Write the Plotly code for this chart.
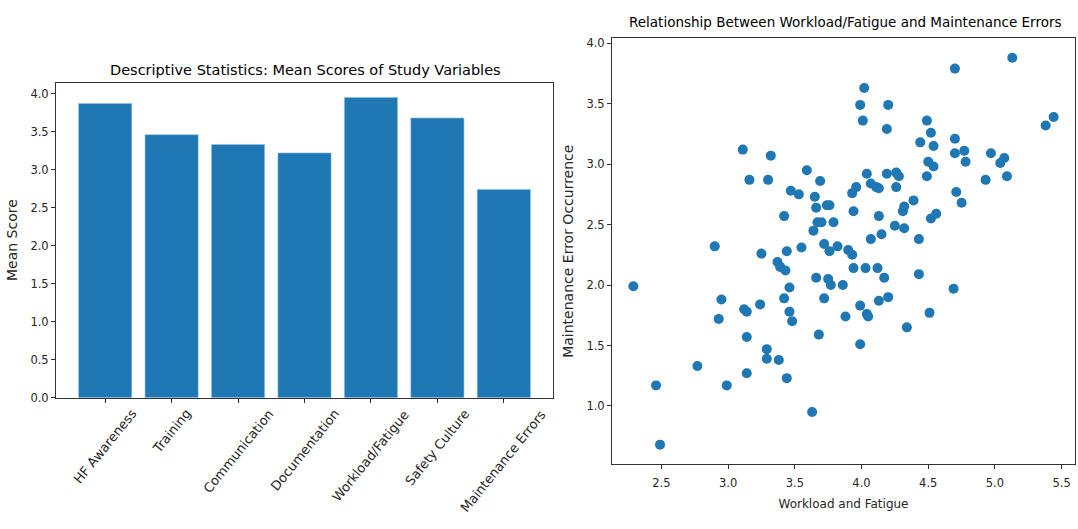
import plotly.graph_objects as go

categories = ["HF Awareness", "Training", "Communication", "Documentation",
              "Workload/Fatigue", "Safety Culture", "Maintenance Errors"]
mean_scores = [3.87, 3.46, 3.33, 3.22, 3.95, 3.68, 2.74]

workload = [3.11, 3.32, 3.16, 3.30, 3.59, 3.69, 3.47, 3.53, 3.65, 3.66,
            3.74, 3.76, 3.42, 3.67, 3.70, 3.64, 3.79, 2.90, 3.72, 3.25,
            3.44, 3.55, 3.76, 3.82, 3.37, 3.39, 3.43, 2.29, 3.46, 3.66,
            3.75, 3.77, 3.86, 2.95, 3.42, 3.72, 3.12, 3.14, 3.24, 2.93,
            3.46, 3.48, 3.14, 3.68, 3.29, 3.29, 3.38, 2.77, 3.14, 2.46,
            2.99, 3.44, 3.63, 2.49, 5.13, 4.70, 4.02, 3.99, 4.20, 4.01,
            4.19, 4.49, 4.52, 4.44, 4.54, 4.70, 5.44, 5.38, 4.70, 4.77,
            4.78, 4.97, 5.07, 5.04, 5.09, 4.93, 4.50, 4.54, 4.49, 4.04,
            4.19, 4.26, 4.28, 4.07, 4.11, 4.13, 3.96, 3.93, 4.26, 4.71,
            4.75, 4.39, 4.32, 4.31, 3.94, 4.13, 4.52, 4.56, 4.25, 4.32,
            4.15, 4.07, 4.43, 3.90, 3.93, 3.94, 4.03, 4.12, 4.17, 4.43,
            4.69, 3.99, 4.04, 4.05, 3.88, 4.13, 4.20, 4.51, 4.34, 3.99]
errors = [3.12, 3.07, 2.87, 2.87, 2.95, 2.86, 2.78, 2.75, 2.73, 2.64,
          2.66, 2.66, 2.57, 2.52, 2.52, 2.45, 2.52, 2.32, 2.34, 2.26,
          2.28, 2.31, 2.28, 2.32, 2.19, 2.15, 2.12, 1.99, 1.98, 2.06,
          2.05, 2.00, 2.00, 1.88, 1.89, 1.89, 1.80, 1.78, 1.84, 1.72,
          1.78, 1.70, 1.57, 1.59, 1.47, 1.39, 1.38, 1.33, 1.27, 1.17,
          1.17, 1.23, 0.95, 0.68, 3.88, 3.79, 3.63, 3.49, 3.49, 3.36,
          3.29, 3.36, 3.26, 3.18, 3.15, 3.21, 3.39, 3.32, 3.09, 3.11,
          3.02, 3.09, 3.05, 3.01, 2.90, 2.87, 3.02, 2.98, 2.90, 2.92,
          2.92, 2.93, 2.90, 2.84, 2.81, 2.80, 2.81, 2.76, 2.81, 2.77,
          2.68, 2.70, 2.65, 2.61, 2.61, 2.57, 2.55, 2.59, 2.49, 2.47,
          2.42, 2.38, 2.38, 2.29, 2.25, 2.14, 2.14, 2.14, 2.06, 2.09,
          1.97, 1.83, 1.76, 1.74, 1.74, 1.87, 1.90, 1.77, 1.65, 1.51]

bar_ticks = [0.0, 0.5, 1.0, 1.5, 2.0, 2.5, 3.0, 3.5, 4.0]
sc_xticks = [2.5, 3.0, 3.5, 4.0, 4.5, 5.0, 5.5]
sc_yticks = [1.0, 1.5, 2.0, 2.5, 3.0, 3.5, 4.0]

BLUE = "#1f77b4"
FONT = "DejaVu Sans"
TXT = "#262626"
W, H = 1078, 529

fig = go.Figure()
fig.add_trace(go.Bar(x=categories, y=mean_scores, marker_color=BLUE,
                     marker_line=dict(color="#8fc3e8", width=0.6),
                     xaxis="x", yaxis="y", showlegend=False))
fig.add_trace(go.Scatter(x=workload, y=errors, mode="markers",
                         marker=dict(color=BLUE, size=10),
                         xaxis="x2", yaxis="y2", showlegend=False))

axis_common = dict(showline=True, linecolor="#333333", linewidth=1, mirror=True,
                   ticks="outside", ticklen=4, tickcolor="#333333",
                   showgrid=False, zeroline=False,
                   tickfont=dict(family=FONT, size=11.5, color=TXT))

fig.update_layout(
    width=W, height=H,
    margin=dict(l=0, r=0, t=0, b=0),
    plot_bgcolor="white", paper_bgcolor="white",
    bargap=0.2,
    xaxis=dict(domain=[56 / W, 553 / W], anchor="y", range=[-0.74, 6.74],
               showticklabels=False, **axis_common),
    yaxis=dict(domain=[1 - 402.5 / H, 1 - 82 / H], anchor="x", range=[0, 4.145],
               tickvals=bar_ticks, ticktext=[f"{v:.1f}" for v in bar_ticks],
               title=dict(text="Mean Score", standoff=9,
                          font=dict(family=FONT, size=14, color=TXT)),
               **axis_common),
    xaxis2=dict(domain=[612 / W, 1075 / W], anchor="y2", range=[2.13, 5.60],
                tickvals=sc_xticks, ticktext=[f"{v:.1f}" for v in sc_xticks],
                ticklabelstandoff=4,
                title=dict(text="Workload and Fatigue", standoff=10,
                           font=dict(family=FONT, size=12, color=TXT)),
                **axis_common),
    yaxis2=dict(domain=[1 - 470 / H, 1 - 37 / H], anchor="x2", range=[0.52, 4.04],
                tickvals=sc_yticks, ticktext=[f"{v:.1f}" for v in sc_yticks],
                title=dict(text="Maintenance Error Occurrence", standoff=9,
                           font=dict(family=FONT, size=14, color=TXT)),
                **axis_common),
)

# rotated category labels, centred under each tick (matplotlib style)
for c in categories:
    fig.add_annotation(x=c, y=1 - 409 / H, xref="x", yref="paper",
                       text=c, textangle=-51, showarrow=False,
                       xanchor="center", yanchor="top",
                       font=dict(family=FONT, size=13, color=TXT))

fig.add_annotation(x=305 / W, y=1 - 69 / H, xref="paper", yref="paper",
                   text="Descriptive Statistics: Mean Scores of Study Variables",
                   showarrow=False, xanchor="center", yanchor="middle",
                   font=dict(family=FONT, size=14.5, color="black"))
fig.add_annotation(x=845 / W, y=1 - 20 / H, xref="paper", yref="paper",
                   text="Relationship Between Workload/Fatigue and Maintenance Errors",
                   showarrow=False, xanchor="center", yanchor="middle",
                   font=dict(family=FONT, size=13.5, color="black"))

fig.write_html("out.html", config={"displayModeBar": False},
               post_script="document.body.style.margin='0';document.body.style.overflow='hidden';")
